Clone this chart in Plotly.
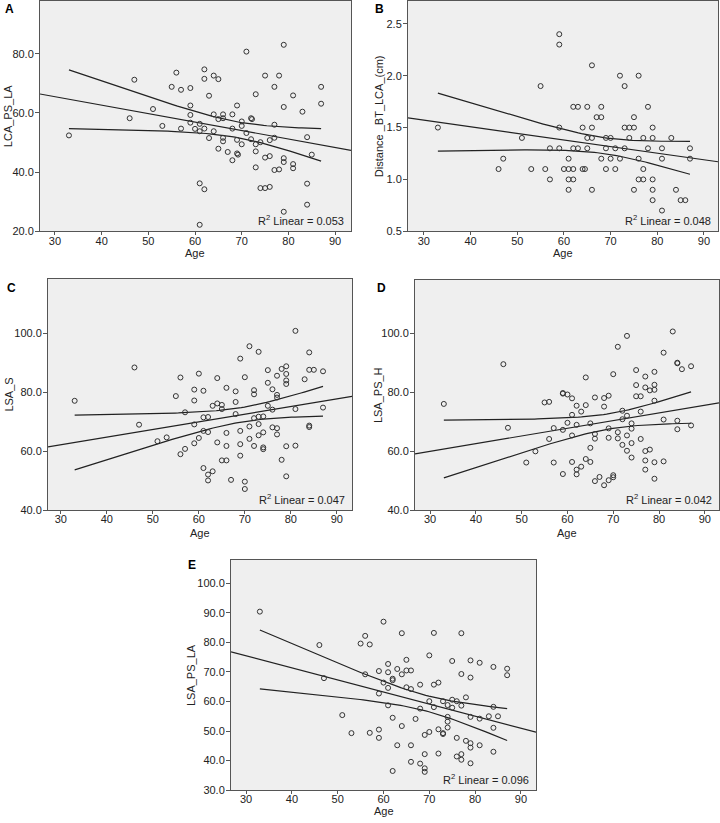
import numpy as np
import plotly.graph_objects as go

# ---------------- data ----------------
age_a = [33, 47, 46, 51, 53, 55, 56, 57, 57, 59, 59, 59, 59, 60, 61, 61, 61, 61, 62, 62, 62, 62,
         63, 63, 64, 64, 64, 65, 65, 65, 66, 66, 66, 66, 67, 68, 68, 68, 69, 69, 69, 69.2, 70, 70,
         70, 71, 71, 72, 72.2, 72, 73, 73, 73, 73, 74, 74, 75, 75, 75, 76, 76, 76, 77, 77, 77, 77,
         78, 78, 79, 79, 79, 79, 79, 81, 81, 81, 83, 84, 84, 84, 85, 87, 87]
lca_ps_la = [52.4, 71.2, 58.2, 61.3, 55.6, 68.8, 73.6, 67.8, 54.7, 68.4, 62.5, 59.3, 56.7, 54.6,
             56.3, 53.8, 36.2, 22.2, 74.7, 71.5, 54.7, 34.2, 65.8, 51.5, 72.6, 59.5, 53.8, 71.4,
             57.9, 47.9, 59.5, 58.2, 51.6, 50.4, 46.8, 59.5, 54.7, 44.0, 62.5, 50.9, 46.3, 45.9,
             57.1, 55.6, 49.4, 80.7, 53.2, 58.2, 57.9, 51.1, 66.3, 49.4, 47.0, 41.6, 50.1, 34.6,
             72.6, 44.9, 34.6, 50.8, 45.4, 35.0, 68.8, 56.0, 51.6, 40.7, 72.6, 40.9, 83.0, 62.0,
             44.7, 43.4, 26.6, 65.9, 42.7, 41.3, 60.4, 51.8, 36.1, 29.0, 45.9, 68.8, 63.1]

age_b = [33, 46, 47, 51, 53, 55, 56, 57, 57, 59, 59, 59, 59, 60, 61, 61, 61, 61, 62, 62, 62, 62,
         63, 63, 64, 64, 64.5, 65, 65, 65, 66, 66, 66, 66, 67, 68, 68, 68, 69, 69, 69, 70, 70, 71,
         71, 72, 72, 73, 73, 73, 74, 74, 75, 75, 75, 76, 76, 76, 77, 77, 77, 78, 78, 79, 79, 79,
         79, 79, 81, 81, 81, 83, 84, 85, 86, 87, 87]
dist_bt_lca = [1.5, 1.1, 1.2, 1.4, 1.1, 1.9, 1.1, 1.0, 1.3, 2.4, 2.3, 1.5, 1.3, 1.1, 1.2, 1.1, 1.0,
               0.9, 1.7, 1.3, 1.1, 1.0, 1.7, 1.3, 1.5, 1.1, 1.1, 1.7, 1.4, 1.3, 2.1, 1.5, 1.4, 0.9,
               1.6, 1.7, 1.6, 1.2, 1.4, 1.3, 1.1, 1.4, 1.2, 1.3, 1.1, 2.0, 1.2, 1.9, 1.5, 1.3, 1.5,
               1.4, 1.6, 1.5, 0.9, 2.0, 1.2, 1.0, 1.4, 1.1, 1.0, 1.7, 1.3, 1.5, 1.4, 1.0, 0.9, 0.8,
               1.3, 1.2, 0.7, 1.4, 0.9, 0.8, 0.8, 1.3, 1.2]

age_c = [33, 46, 47, 51, 53, 55, 56, 56, 57, 57, 59, 59, 59, 59, 60, 60, 61, 61, 61, 61, 62, 62,
         62, 62, 63, 63, 64, 64, 64, 65, 65, 65, 66, 66, 66, 66, 67, 68, 68, 68, 69, 69, 69, 69,
         70, 70, 70, 71, 71, 71, 72, 72, 72, 72, 73, 73, 73, 73, 74, 74, 74, 74, 75, 75, 75, 76,
         76, 76, 77, 77, 77, 77, 77, 78, 78, 79, 79, 79, 79, 79, 79, 81, 81, 81, 83, 84, 84, 84,
         84, 85, 87, 87]
lsa_s = [77.1, 88.4, 69.0, 63.4, 64.7, 78.7, 85.0, 59.0, 73.2, 60.8, 80.9, 77.2, 69.1, 62.7, 86.3,
         64.5, 80.5, 71.5, 66.9, 54.3, 71.6, 66.5, 52.1, 50.1, 75.4, 53.2, 84.8, 76.2, 63.0, 75.7,
         74.3, 56.9, 81.5, 66.2, 61.8, 56.9, 50.3, 80.3, 76.7, 72.6, 91.4, 66.9, 62.4, 58.5, 85.1,
         49.7, 47.2, 95.6, 68.4, 64.2, 80.7, 79.3, 71.2, 61.8, 93.7, 71.7, 69.2, 65.4, 71.8, 66.4,
         61.3, 60.7, 87.5, 83.2, 75.4, 81.0, 74.1, 68.1, 85.6, 79.1, 78.2, 67.8, 65.7, 87.9, 57.1,
         88.8, 86.2, 84.0, 82.8, 61.7, 51.5, 100.8, 74.3, 61.9, 84.4, 93.5, 87.6, 68.7, 68.2, 87.6,
         87.1, 74.8]

age_d = [33, 46, 47, 51, 53, 55, 56, 56, 57, 57, 59, 59, 59, 59, 60, 60, 61, 61, 61, 61, 62, 62,
         62, 62, 63, 63, 64, 64, 64, 65, 65, 65, 66, 66, 66, 66, 67, 68, 68, 68, 69, 69, 69, 69,
         70, 70, 70, 71, 71, 71, 72, 72, 72, 73, 73, 73, 73, 74, 74, 74, 74, 75, 75, 75, 76, 76,
         76, 77, 77, 77, 77, 77, 78, 78, 79, 79, 79, 79, 79, 79, 81, 81, 81, 83, 84, 84, 84, 84,
         85, 87, 87]
lsa_ps_h = [76.1, 89.6, 68.0, 56.2, 60.0, 76.6, 76.8, 64.2, 67.9, 56.2, 79.8, 79.6, 67.3, 52.3,
            79.3, 69.7, 78.0, 72.4, 65.4, 56.4, 75.5, 69.0, 53.8, 52.2, 73.5, 54.8, 85.1, 75.7,
            57.4, 69.5, 61.2, 56.4, 78.3, 65.9, 64.3, 49.9, 51.3, 78.1, 75.2, 48.5, 78.9, 67.8,
            64.6, 50.2, 86.2, 51.9, 51.2, 95.5, 66.5, 64.4, 73.8, 70.9, 62.2, 99.2, 72.1, 65.4,
            60.2, 69.5, 67.7, 62.8, 57.9, 87.6, 82.5, 78.7, 78.7, 73.5, 64.2, 85.4, 81.7, 60.1,
            56.9, 53.8, 80.7, 60.6, 87.0, 82.6, 80.9, 77.2, 56.3, 50.7, 93.5, 70.8, 56.6, 100.7,
            90.1, 89.9, 70.4, 67.5, 87.9, 88.9, 68.8]

age_e = [33, 46, 47, 51, 53, 55, 56, 56, 57, 57, 59, 59, 59, 59, 60, 60, 61, 61, 61, 61, 62, 62,
         62, 62, 63, 63, 64, 64, 64, 65, 65, 65, 66, 66, 66, 66, 67, 68, 68, 68, 69, 69, 69, 69,
         70, 70, 70, 71, 71, 71, 72, 72, 72, 73, 73, 73, 74, 74, 74, 74, 75, 75, 75, 76, 76, 76,
         77, 77, 77, 77, 77, 78, 78, 79, 79, 79, 79, 79, 79, 81, 81, 81, 83, 84, 84, 84, 84, 85,
         87, 87]
lsa_ps_la = [90.4, 79.1, 67.9, 55.4, 49.3, 79.6, 82.2, 69.2, 79.3, 49.4, 70.3, 62.7, 50.5, 47.7,
             87.0, 66.4, 72.7, 69.9, 64.6, 58.7, 67.7, 67.2, 54.5, 36.5, 71.0, 45.2, 83.1, 69.2,
             51.7, 74.1, 70.5, 64.8, 70.5, 64.2, 45.2, 39.6, 54.1, 65.7, 57.6, 39.0, 48.7, 42.2,
             37.4, 36.2, 75.6, 60.1, 49.7, 83.2, 65.7, 58.1, 66.4, 50.6, 42.4, 60.1, 49.3, 49.0,
             58.8, 54.8, 53.2, 51.2, 73.7, 60.6, 57.9, 60.1, 47.7, 41.4, 83.1, 69.3, 58.6, 42.2,
             40.3, 61.4, 46.7, 73.9, 68.1, 54.8, 45.9, 44.4, 39.1, 73.1, 54.2, 45.2, 55.0, 71.7,
             58.2, 51.1, 43.0, 55.0, 71.1, 68.9]

panel_letters = ["A", "B", "C", "D", "E"]
y_titles = ["LCA_PS_LA", "Distance _BT_LCA_(cm)", "LSA_S", "LSA_PS_H", "LSA_PS_LA"]
r2_labels = ["0.053", "0.048", "0.047", "0.042", "0.096"]
x_title = "Age"

# ---------------- layout (pixel geometry of each panel) ----------------
W, H = 720, 823
panels = [
    dict(x=age_a, y=lca_ps_la, box=(40, 351, 1, 233), xr=(26.8, 93.4), yr=(20, 97.8),
         tick0=20, dtick=20, letter=(3, 9), ytx=8, agey=255),
    dict(x=age_b, y=dist_bt_lca, box=(408, 718, 1, 233), xr=(26.6, 93.0), yr=(0.5, 2.72),
         tick0=0.5, dtick=0.5, letter=(373, 9), ytx=379, agey=255),
    dict(x=age_c, y=lsa_s, box=(48, 352, 281, 514), xr=(27.2, 93.3), yr=(40, 118.4),
         tick0=40, dtick=20, letter=(5, 290), ytx=9, agey=537),
    dict(x=age_d, y=lsa_ps_h, box=(415, 719, 282, 514), xr=(26.7, 93.1), yr=(40, 118.2),
         tick0=40, dtick=20, letter=(375, 290), ytx=378, agey=537),
    dict(x=age_e, y=lsa_ps_la, box=(231, 536, 564, 796), xr=(26.7, 93.3), yr=(30, 107.9),
         tick0=30, dtick=10, letter=(186, 569), ytx=191, agey=817),
]

FONT = "Liberation Sans, Arial, sans-serif"
LINE = "#222222"
FRAME = "#555555"
T_CRIT = 1.987  # two-sided 95% Student t, ~90 df

fig = go.Figure()
annotations = []

for i, p in enumerate(panels):
    n = i + 1
    xa = "x" if n == 1 else f"x{n}"
    ya = "y" if n == 1 else f"y{n}"
    x = np.asarray(p["x"], float)
    y = np.asarray(p["y"], float)

    # OLS fit + 95% CI of the mean
    xm, ym = x.mean(), y.mean()
    sxx = ((x - xm) ** 2).sum()
    b = ((x - xm) * (y - ym)).sum() / sxx
    a = ym - b * xm
    resid = y - (a + b * x)
    s = np.sqrt((resid ** 2).sum() / (len(x) - 2))

    xf = np.array(p["xr"])
    fig.add_trace(go.Scatter(x=xf, y=a + b * xf, mode="lines", xaxis=xa, yaxis=ya,
                             line=dict(color=LINE, width=1.2), hoverinfo="skip", showlegend=False))
    xg = np.linspace(x.min(), x.max(), 80)
    half = T_CRIT * s * np.sqrt(1.0 / len(x) + (xg - xm) ** 2 / sxx)
    for sign in (1, -1):
        fig.add_trace(go.Scatter(x=xg, y=a + b * xg + sign * half, mode="lines", xaxis=xa, yaxis=ya,
                                 line=dict(color=LINE, width=1.2), hoverinfo="skip", showlegend=False))

    fig.add_trace(go.Scatter(x=x, y=y, mode="markers", xaxis=xa, yaxis=ya, showlegend=False,
                             marker=dict(symbol="circle-open", size=5, color="#333333",
                                         line=dict(width=1, color="#333333"))))

    x0, x1, y0, y1 = p["box"]
    axis_common = dict(showgrid=False, zeroline=False, showline=True, mirror=True,
                       linecolor=FRAME, linewidth=1, ticks="outside",
                       tickcolor=FRAME, tickfont=dict(family=FONT, size=11, color="#222"))
    fig.update_layout(**{
        ("xaxis" if n == 1 else f"xaxis{n}"): dict(
            domain=[x0 / W, x1 / W], range=list(p["xr"]), anchor=ya,
            tickmode="linear", tick0=30, dtick=10, ticklen=3, ticklabelstandoff=-4,
            **axis_common),
        ("yaxis" if n == 1 else f"yaxis{n}"): dict(
            domain=[1 - y1 / H, 1 - y0 / H], range=list(p["yr"]), anchor=xa,
            tickmode="linear", tick0=p["tick0"], dtick=p["dtick"], tickformat=".1f",
            ticklen=4, ticklabelstandoff=-1, **axis_common),
    })

    annotations.append(dict(text=f"<b>{panel_letters[i]}</b>", x=p["letter"][0] / W,
                            y=1 - p["letter"][1] / H, xref="paper", yref="paper",
                            xanchor="left", yanchor="middle", showarrow=False,
                            font=dict(family=FONT, size=12, color="#000")))
    annotations.append(dict(text=y_titles[i], x=p["ytx"] / W, y=1 - (y0 + y1) / 2 / H,
                            xref="paper", yref="paper", textangle=-90, xanchor="center",
                            yanchor="middle", showarrow=False,
                            font=dict(family=FONT, size=11, color="#222")))
    annotations.append(dict(text=x_title, x=(x0 + x1) / 2 / W, y=1 - p["agey"] / H,
                            xref="paper", yref="paper", xanchor="center", yanchor="middle",
                            showarrow=False, font=dict(family=FONT, size=11, color="#222")))
    annotations.append(dict(text=f"R<sup>2</sup> Linear = {r2_labels[i]}",
                            x=(x1 - 5) / W, y=1 - (y1 - 11) / H, xref="paper", yref="paper",
                            xanchor="right", yanchor="middle", showarrow=False,
                            font=dict(family=FONT, size=11, color="#222")))

fig.update_layout(width=W, height=H, margin=dict(l=0, r=0, t=0, b=0),
                  paper_bgcolor="white", plot_bgcolor="#efefef",
                  annotations=annotations, showlegend=False)

fig.write_html("out.html", config={"displayModeBar": False, "responsive": False},
               post_script="document.body.style.margin='0px';document.body.style.overflow='hidden';")
